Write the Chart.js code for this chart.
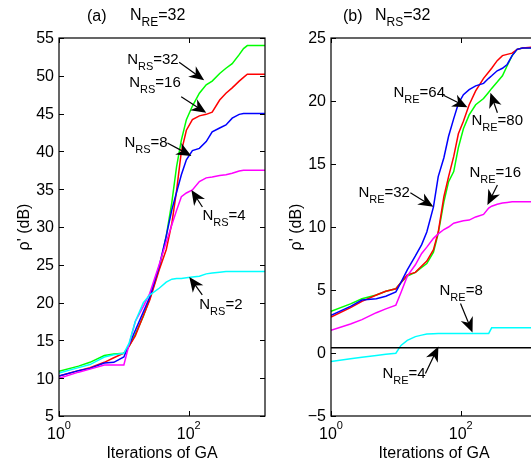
<!DOCTYPE html>
<html>
<head>
<meta charset="utf-8">
<script src="https://cdn.jsdelivr.net/npm/chart.js@4.4.1/dist/chart.umd.min.js"></script>
<style>
  html, body { margin: 0; padding: 0; background: #fff; overflow: hidden; }
  #wrap { position: relative; width: 531px; height: 464px; overflow: hidden; }
  canvas { position: absolute; top: 0; }
  #plotA { left: 0; }
  #plotB { left: 270px; }
</style>
</head>
<body>
<div id="wrap">
  <canvas id="plotA" width="270" height="464"></canvas>
  <canvas id="plotB" width="280" height="464"></canvas>
</div>
<script>
// ---- data: (a) N_RE = 32, varying N_RS ----
const itersA = [1, 2, 3, 5, 7, 10, 12, 15, 20, 25, 35, 45, 55, 65, 77, 92, 114, 146, 186, 230, 300, 375, 468, 600, 700, 800, 1000, 1500];
const rs32 = [10.9, 11.6, 12.1, 13.0, 13.2, 13.3, 14.2, 15.8, 18.2, 20.5, 24.5, 28.8, 33.3, 38.0, 41.5, 44.2, 46.0, 47.7, 48.8, 49.3, 50.3, 51.0, 51.6, 52.8, 53.6, 54.0, 54.0, 54.0];
const rs16 = [10.3, 11.0, 11.4, 12.1, 12.7, 13.3, 14.2, 15.6, 18.3, 20.3, 24.3, 27.0, 30.5, 34.8, 40.0, 42.8, 44.2, 44.7, 44.9, 45.2, 46.8, 47.7, 48.4, 49.3, 49.8, 50.2, 50.2, 50.2];
const rs8  = [10.3, 11.0, 11.3, 12.0, 12.1, 12.8, 14.4, 16.3, 18.8, 20.7, 24.8, 28.8, 32.3, 34.6, 36.9, 38.9, 40.1, 40.4, 41.3, 42.6, 43.1, 43.5, 44.4, 44.9, 45.0, 45.0, 45.0, 45.0];
const rs4  = [10.0, 10.8, 11.2, 11.75, 11.75, 11.75, 14.4, 17.5, 19.5, 21.2, 25.0, 28.0, 30.3, 32.2, 34.0, 34.5, 34.9, 36.0, 36.5, 36.6, 36.8, 36.9, 37.1, 37.4, 37.5, 37.5, 37.5, 37.5];
const rs2  = [10.7, 11.4, 11.8, 12.8, 13.1, 13.3, 14.6, 17.5, 20.0, 21.0, 21.9, 22.7, 23.1, 23.2, 23.2, 23.3, 23.4, 23.5, 23.8, 23.9, 24.0, 24.1, 24.1, 24.1, 24.1, 24.1, 24.1, 24.1];

// ---- data: (b) N_RS = 32, varying N_RE ----
const itersB = [1, 2, 3, 5, 7, 10, 12, 15, 20, 25, 30, 38, 45, 55, 65, 78, 92, 110, 135, 170, 225, 270, 300, 365, 440, 520, 620, 740, 900, 1500];
const re80 = [3.3, 3.9, 4.3, 4.6, 4.9, 5.1, 5.6, 6.1, 6.4, 6.8, 7.1, 8.0, 9.5, 12.0, 13.6, 14.4, 16.3, 17.8, 18.9, 19.7, 20.2, 20.7, 21.0, 21.5, 22.0, 22.8, 23.6, 24.1, 24.2, 24.2];
const re64 = [2.85, 3.6, 4.1, 4.6, 4.9, 5.1, 5.6, 6.2, 6.4, 6.9, 7.3, 8.2, 9.6, 12.4, 14.0, 15.6, 17.4, 18.4, 19.7, 20.8, 21.8, 22.3, 22.6, 23.2, 23.6, 23.7, 23.8, 24.1, 24.2, 24.3];
const re32 = [3.0, 3.7, 4.2, 4.3, 4.5, 4.85, 5.6, 6.6, 7.7, 8.6, 9.6, 11.6, 14.0, 15.5, 17.2, 18.6, 19.8, 20.5, 20.9, 21.2, 21.4, 21.8, 22.0, 22.4, 22.6, 22.9, 23.6, 24.1, 24.2, 24.2];
const re16 = [1.8, 2.3, 2.65, 3.2, 3.5, 3.8, 4.8, 6.1, 7.0, 7.9, 8.4, 9.1, 9.45, 9.8, 10.0, 10.3, 10.4, 10.5, 10.55, 10.8, 11.0, 11.5, 11.65, 11.8, 11.9, 11.95, 12.0, 12.0, 12.0, 12.0];
const re8  = [-0.67, -0.45, -0.33, -0.2, -0.1, -0.02, 0.6, 1.0, 1.3, 1.42, 1.5, 1.53, 1.55, 1.55, 1.55, 1.55, 1.55, 1.55, 1.55, 1.55, 1.55, 1.55, 2.0, 2.0, 2.0, 2.0, 2.0, 2.0, 2.0, 2.0];
const itersRE4 = [1, 1500];
const re4 = [0.42, 0.42];

// ---- axes ----
const xTicks = [1, 100];
const xTickExp = ["0", "2"];
const yTicksA = [5, 10, 15, 20, 25, 30, 35, 40, 45, 50, 55];
const yTicksB = [-5, 0, 5, 10, 15, 20, 25];

const FONT = '"Liberation Sans", Arial, Helvetica, sans-serif';

function pts(xs, ys) {
  return xs.map((x, i) => ({ x, y: ys[i] }));
}

// "N_{RS}=32" -> [["N",false],["RS",true],["=32",false]]
function parseLabel(s) {
  const out = [];
  s.split(/(_\{[^}]*\})/).forEach(p => {
    if (!p) return;
    if (p.startsWith("_{")) out.push([p.slice(2, -1), true]);
    else out.push([p, false]);
  });
  return out;
}

function drawLabel(ctx, s, x, y, size) {
  let cx = x;
  parseLabel(s).forEach(([t, sub]) => {
    ctx.font = (sub ? Math.round(size * 0.74) : size) + "px " + FONT;
    ctx.fillText(t, cx, sub ? y + Math.round(size * 0.4) : y);
    cx += ctx.measureText(t).width;
  });
}

function arrow(ctx, x1, y1, x2, y2) {
  const a = Math.atan2(y2 - y1, x2 - x1), c = Math.cos(a), s = Math.sin(a);
  const L = 15, W = 6.5;
  ctx.beginPath();
  ctx.moveTo(x1, y1);
  ctx.lineTo(x2 - L * 0.6 * c, y2 - L * 0.6 * s);
  ctx.stroke();
  ctx.beginPath();
  ctx.moveTo(x2, y2);
  ctx.lineTo(x2 - L * c - W * s, y2 - L * s + W * c);
  ctx.lineTo(x2 - L * 0.7 * c, y2 - L * 0.7 * s);
  ctx.lineTo(x2 - L * c + W * s, y2 - L * s - W * c);
  ctx.closePath();
  ctx.fill();
}

// MATLAB-ish axes: box, inward ticks, labels, arrows
function axesPlugin(opt) {
  return {
    id: "matlabAxes",
    afterDatasetsDraw(chart) {
      const { ctx, chartArea: a, scales: { x, y } } = chart;
      ctx.save();
      ctx.fillStyle = "#000";
      ctx.strokeStyle = "#000";
      ctx.lineWidth = 1.2;
      ctx.strokeRect(a.left, a.top, a.right - a.left, a.bottom - a.top);

      ctx.lineWidth = 1;
      const tl = 5;
      ctx.beginPath();
      xTicks.forEach(v => {
        const px = Math.round(x.getPixelForValue(v)) + 0.5;
        ctx.moveTo(px, a.bottom); ctx.lineTo(px, a.bottom - tl);
        ctx.moveTo(px, a.top); ctx.lineTo(px, a.top + tl);
      });
      opt.yTicks.forEach(v => {
        const py = Math.round(y.getPixelForValue(v)) + 0.5;
        ctx.moveTo(a.left, py); ctx.lineTo(a.left + tl, py);
        ctx.moveTo(a.right, py); ctx.lineTo(a.right - tl, py);
      });
      ctx.stroke();

      // y tick labels
      ctx.font = "16px " + FONT;
      ctx.textAlign = "right";
      ctx.textBaseline = "middle";
      opt.yTicks.forEach(v => {
        const lab = v < 0 ? "\u2212" + Math.abs(v) : String(v);
        ctx.fillText(lab, a.left - 5, y.getPixelForValue(v) + 1);
      });

      // x tick labels 10^n
      ctx.textAlign = "left";
      ctx.textBaseline = "alphabetic";
      xTicks.forEach((v, i) => {
        ctx.font = "16px " + FONT;
        const w1 = ctx.measureText("10").width;
        ctx.font = "11px " + FONT;
        const w2 = ctx.measureText(xTickExp[i]).width;
        const x0 = x.getPixelForValue(v) - (w1 + w2) / 2;
        ctx.font = "16px " + FONT;
        ctx.fillText("10", x0, a.bottom + 23);
        ctx.font = "11px " + FONT;
        ctx.fillText(xTickExp[i], x0 + w1, a.bottom + 13);
      });

      // axis labels
      ctx.font = "16px " + FONT;
      ctx.textAlign = "center";
      ctx.fillText("Iterations of GA", (a.left + a.right) / 2, a.bottom + 42);
      ctx.save();
      ctx.translate(a.left - 30, (a.top + a.bottom) / 2);
      ctx.rotate(-Math.PI / 2);
      ctx.fillText("\u03C1' (dB)", 0, 0);
      ctx.restore();

      // title
      ctx.textAlign = "left";
      ctx.font = "16px " + FONT;
      ctx.fillText(opt.title[0], opt.titleX[0], 21);
      drawLabel(ctx, opt.title[1], opt.titleX[1], 20, 16);

      // annotations
      ctx.lineWidth = 1.2;
      opt.notes.forEach(n => {
        const tx = x.getPixelForValue(n.at[0]), ty = y.getPixelForValue(n.at[1]);
        arrow(ctx, tx + n.tail[0], ty + n.tail[1], tx, ty);
        drawLabel(ctx, n.label, tx + n.text[0], ty + n.text[1], 15);
      });
      ctx.restore();
    }
  };
}

function line(label, xs, ys, color) {
  return { label, data: pts(xs, ys), borderColor: color, backgroundColor: color };
}

function makeChart(id, datasets, yMin, yMax, pad, opt) {
  return new Chart(document.getElementById(id), {
    type: "line",
    data: { datasets },
    options: {
      responsive: false,
      animation: false,
      devicePixelRatio: 1,
      layout: { padding: pad },
      plugins: { legend: { display: false }, tooltip: { enabled: false } },
      elements: { point: { radius: 0 }, line: { borderWidth: 1.5, tension: 0 } },
      scales: {
        x: { type: "logarithmic", min: 1, max: 1500, display: false },
        y: { type: "linear", min: yMin, max: yMax, display: false }
      }
    },
    plugins: [axesPlugin(opt)]
  });
}

makeChart("plotA", [
  line("N_RS=2", itersA, rs2, "#00ffff"),
  line("N_RS=4", itersA, rs4, "#ff00ff"),
  line("N_RS=8", itersA, rs8, "#0000ff"),
  line("N_RS=16", itersA, rs16, "#ff0000"),
  line("N_RS=32", itersA, rs32, "#00ff00")
], 5, 55, { left: 59, right: 5, top: 38, bottom: 48 }, {
  yTicks: yTicksA,
  title: ["(a)", "N_{RE}=32"],
  titleX: [87, 130],
  notes: [
    { label: "N_{RS}=32", at: [173, 49.4], tail: [-25, -18], text: [-77, -16] },
    { label: "N_{RS}=16", at: [186, 45.1], tail: [-25, -16], text: [-77, -26] },
    { label: "N_{RS}=8", at: [110, 39.4], tail: [-24, -13], text: [-67, -9] },
    { label: "N_{RS}=4", at: [110, 34.9], tail: [11, 17], text: [11, 30] },
    { label: "N_{RS}=2", at: [102, 23.4], tail: [13, 18], text: [10, 32] }
  ]
});

makeChart("plotB", [
  line("N_RE=4", itersRE4, re4, "#000000"),
  line("N_RE=8", itersB, re8, "#00ffff"),
  line("N_RE=16", itersB, re16, "#ff00ff"),
  line("N_RE=32", itersB, re32, "#0000ff"),
  line("N_RE=64", itersB, re64, "#ff0000"),
  line("N_RE=80", itersB, re80, "#00ff00")
], -5, 25, { left: 61, right: 13, top: 38, bottom: 48 }, {
  yTicks: yTicksB,
  title: ["(b)", "N_{RS}=32"],
  titleX: [73, 105],
  notes: [
    { label: "N_{RE}=64", at: [127, 19.5], tail: [-24, -12], text: [-74, -10] },
    { label: "N_{RE}=80", at: [287, 20.65], tail: [7, 20], text: [-19, 32] },
    { label: "N_{RE}=32", at: [37.9, 11.6], tail: [-23, -14], text: [-75, -10] },
    { label: "N_{RE}=16", at: [258, 11.75], tail: [10, -20], text: [-18, -28] },
    { label: "N_{RE}=8", at: [152, 1.63], tail: [-12, -29], text: [-33, -37] },
    { label: "N_{RE}=4", at: [45.3, 0.52], tail: [-13, 27], text: [-56, 32] }
  ]
});
</script>
</body>
</html>
